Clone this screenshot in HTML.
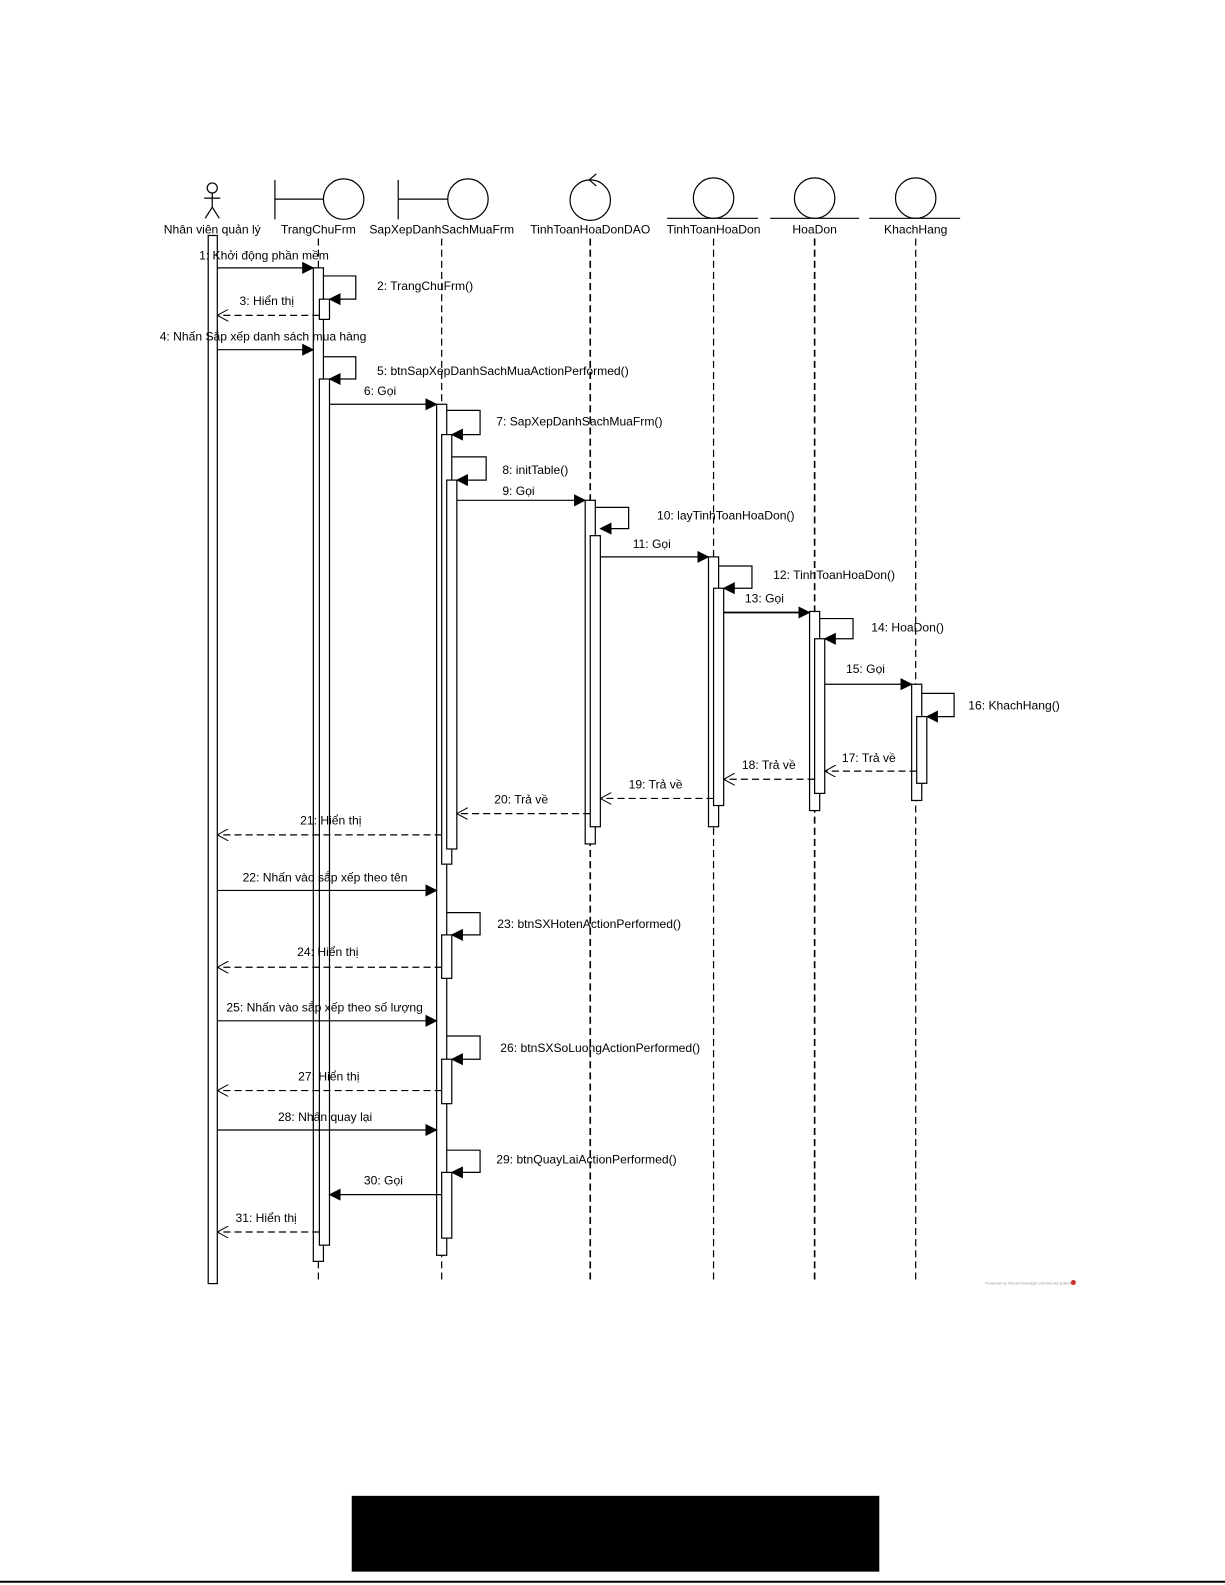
<!DOCTYPE html>
<html><head><meta charset="utf-8"><style>
html,body{margin:0;padding:0;background:#fff}
svg{display:block}
text{font-family:"Liberation Sans",Arial,sans-serif;font-size:12px;fill:#000}
</style></head><body>
<svg width="1225" height="1585" viewBox="0 0 1225 1585" xmlns="http://www.w3.org/2000/svg">
<defs>
<marker id="f" markerWidth="12" markerHeight="12" refX="11" refY="6" orient="auto" markerUnits="userSpaceOnUse"><path d="M0,0 L12,6 L0,12 z" fill="#000"/></marker>
<marker id="o" markerWidth="12" markerHeight="12" refX="11" refY="6" orient="auto" markerUnits="userSpaceOnUse"><path d="M0,0 L11,6 L0,12" fill="none" stroke="#000"/></marker>
</defs>
<rect width="1225" height="1585" fill="#fff"/>
<g transform="scale(1.0107)">
<g stroke="#000" fill="none" stroke-width="1.2">
<circle cx="210" cy="186" r="5"/>
<line x1="210" y1="191" x2="210" y2="205"/><line x1="202" y1="196" x2="218" y2="196"/>
<line x1="210" y1="205" x2="203" y2="216"/><line x1="210" y1="205" x2="217" y2="216"/>
<line x1="272" y1="178" x2="272" y2="217"/><line x1="272" y1="197" x2="320" y2="197"/><circle cx="340" cy="197" r="20"/>
<line x1="394" y1="178" x2="394" y2="217"/><line x1="394" y1="197" x2="443" y2="197"/><circle cx="463" cy="197" r="20"/>
<circle cx="584" cy="198" r="20"/><path d="M590,172 L583,178 L590,184"/>
<circle cx="706" cy="196" r="20"/><line x1="660" y1="216" x2="750" y2="216"/>
<circle cx="806" cy="196" r="20"/><line x1="762" y1="216" x2="850" y2="216"/>
<circle cx="906" cy="196" r="20"/><line x1="860" y1="216" x2="950" y2="216"/>
</g>
<g text-anchor="middle">
<text x="210" y="231">Nhân viên quản lý</text>
<text x="315" y="231">TrangChuFrm</text>
<text x="437" y="231">SapXepDanhSachMuaFrm</text>
<text x="584" y="231">TinhToanHoaDonDAO</text>
<text x="706" y="231">TinhToanHoaDon</text>
<text x="806" y="231">HoaDon</text>
<text x="906" y="231">KhachHang</text>
</g>
<g stroke="#000" stroke-dasharray="7,4" stroke-width="1.2">
<line x1="315" y1="236" x2="315" y2="1270"/>
<line x1="437" y1="236" x2="437" y2="1270"/>
<line x1="584" y1="236" x2="584" y2="1270" stroke-width="1.6"/>
<line x1="706" y1="236" x2="706" y2="1270"/>
<line x1="806" y1="236" x2="806" y2="1270" stroke-width="1.6"/>
<line x1="906" y1="236" x2="906" y2="1270"/>
</g>
<g stroke="#000" fill="#fff" stroke-width="1.2">
<rect x="206" y="233" width="9" height="1037"/>
<rect x="310" y="265" width="10" height="983"/>
<rect x="316" y="296" width="10" height="20"/>
<rect x="316" y="375" width="10" height="857"/>
<rect x="432" y="400" width="10" height="842"/>
<rect x="437" y="430" width="10" height="425"/>
<rect x="442" y="475" width="10" height="365"/>
<rect x="437" y="925" width="10" height="43"/>
<rect x="437" y="1048" width="10" height="44"/>
<rect x="437" y="1160" width="10" height="65"/>
<rect x="579" y="495" width="10" height="340"/>
<rect x="584" y="530" width="10" height="288"/>
<rect x="701" y="551" width="10" height="267"/>
<rect x="706" y="582" width="10" height="215"/>
<rect x="801" y="605" width="10" height="197"/>
<rect x="806" y="632" width="10" height="153"/>
<rect x="902" y="677" width="10" height="115"/>
<rect x="907" y="709" width="10" height="66"/>
</g>
<g stroke="#000" fill="none" stroke-width="1.2">
<line x1="215" y1="265" x2="310" y2="265" marker-end="url(#f)"/>
<line x1="215" y1="346" x2="310" y2="346" marker-end="url(#f)"/>
<line x1="326" y1="400" x2="432" y2="400" marker-end="url(#f)"/>
<line x1="452" y1="495" x2="579" y2="495" marker-end="url(#f)"/>
<line x1="594" y1="551" x2="701" y2="551" marker-end="url(#f)"/>
<line x1="716" y1="606" x2="801" y2="606" marker-end="url(#f)" stroke-width="1.8"/>
<line x1="816" y1="677" x2="902" y2="677" marker-end="url(#f)"/>
<line x1="215" y1="881" x2="432" y2="881" marker-end="url(#f)"/>
<line x1="215" y1="1010" x2="432" y2="1010" marker-end="url(#f)"/>
<line x1="215" y1="1118" x2="432" y2="1118" marker-end="url(#f)"/>
<line x1="437" y1="1182" x2="326" y2="1182" marker-end="url(#f)"/>
<polyline points="320,273 352,273 352,296 326,296" marker-end="url(#f)"/>
<polyline points="320,353 352,353 352,375 326,375" marker-end="url(#f)"/>
<polyline points="442,406 475,406 475,430 447,430" marker-end="url(#f)"/>
<polyline points="447,452 481,452 481,475 452,475" marker-end="url(#f)"/>
<polyline points="589,502 622,502 622,523 594,523" marker-end="url(#f)"/>
<polyline points="711,560 744,560 744,582 716,582" marker-end="url(#f)"/>
<polyline points="811,612 844,612 844,632 816,632" marker-end="url(#f)"/>
<polyline points="912,686 944,686 944,709 917,709" marker-end="url(#f)"/>
<polyline points="442,903 475,903 475,925 447,925" marker-end="url(#f)"/>
<polyline points="442,1025 475,1025 475,1048 447,1048" marker-end="url(#f)"/>
<polyline points="442,1138 475,1138 475,1160 447,1160" marker-end="url(#f)"/>
</g>
<g stroke="#000" fill="none" stroke-width="1.2" stroke-dasharray="7,4">
<line x1="316" y1="312" x2="215" y2="312" marker-end="url(#o)"/>
<line x1="907" y1="763" x2="816" y2="763" marker-end="url(#o)"/>
<line x1="806" y1="771" x2="716" y2="771" marker-end="url(#o)"/>
<line x1="706" y1="790" x2="594" y2="790" marker-end="url(#o)"/>
<line x1="584" y1="805" x2="452" y2="805" marker-end="url(#o)"/>
<line x1="437" y1="826" x2="215" y2="826" marker-end="url(#o)"/>
<line x1="437" y1="957" x2="215" y2="957" marker-end="url(#o)"/>
<line x1="437" y1="1079" x2="215" y2="1079" marker-end="url(#o)"/>
<line x1="316" y1="1219" x2="215" y2="1219" marker-end="url(#o)"/>
</g>
<g>
<text x="197" y="257">1: Khởi động phần mềm</text>
<text x="373" y="287">2: TrangChuFrm()</text>
<text x="237" y="302">3: Hiển thị</text>
<text x="158" y="337">4: Nhấn Sắp xếp danh sách mua hàng</text>
<text x="373" y="371">5: btnSapXepDanhSachMuaActionPerformed()</text>
<text x="360" y="391">6: Gọi</text>
<text x="491" y="421">7: SapXepDanhSachMuaFrm()</text>
<text x="497" y="469">8: initTable()</text>
<text x="497" y="490">9: Gọi</text>
<text x="650" y="514">10: layTinhToanHoaDon()</text>
<text x="626" y="542">11: Gọi</text>
<text x="765" y="573">12: TinhToanHoaDon()</text>
<text x="737" y="596">13: Gọi</text>
<text x="862" y="625">14: HoaDon()</text>
<text x="837" y="666">15: Gọi</text>
<text x="958" y="702">16: KhachHang()</text>
<text x="833" y="754">17: Trả về</text>
<text x="734" y="761">18: Trả về</text>
<text x="622" y="780">19: Trả về</text>
<text x="489" y="795">20: Trả về</text>
<text x="297" y="816">21: Hiển thị</text>
<text x="240" y="872">22: Nhấn vào sắp xếp theo tên</text>
<text x="492" y="918">23: btnSXHotenActionPerformed()</text>
<text x="294" y="946">24: Hiển thị</text>
<text x="224" y="1001">25: Nhấn vào sắp xếp theo số lượng</text>
<text x="495" y="1041">26: btnSXSoLuongActionPerformed()</text>
<text x="295" y="1069">27: Hiển thị</text>
<text x="275" y="1109">28: Nhấn quay lại</text>
<text x="491" y="1151">29: btnQuayLaiActionPerformed()</text>
<text x="360" y="1172">30: Gọi</text>
<text x="233" y="1209">31: Hiển thị</text>
<text x="975" y="1271" style="font-size:4px;fill:#999">Powered by Visual Paradigm Community Edition</text>
</g>
<circle cx="1062" cy="1269" r="2.5" fill="#c33"/>
<rect x="348" y="1480" width="522" height="75" fill="#000"/>
<line x1="0" y1="1565" x2="1225" y2="1565" stroke="#000" stroke-width="2"/>
</g>
</svg>
</body></html>
